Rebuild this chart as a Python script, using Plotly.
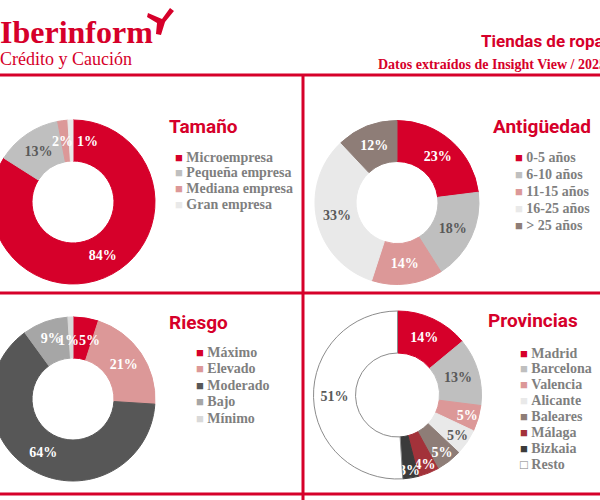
import plotly.graph_objects as go

OX = 10                      # the reference is cropped 10px on the left: extra figure width
W, H = 600 + OX, 500
RED = "#D6002A"
TXT_GRAY = "#7F7F7F"
DARK_TXT = "#595959"

# ---------------- data ----------------
tam_labels = ["Microempresa", "Pequeña empresa", "Mediana empresa", "Gran empresa"]
tam_values = [84, 13, 2, 1]
tam_colors = [RED, "#BFBFBF", "#DC9898", "#E9E9E9"]
tam_text_colors = ["white", DARK_TXT, "white", "white"]

ant_labels = ["0-5 años", "6-10 años", "11-15 años", "16-25 años", "> 25 años"]
ant_values = [23, 18, 14, 33, 12]
ant_colors = [RED, "#BFBFBF", "#DC9898", "#E9E9E9", "#8E7D77"]
ant_text_colors = ["white", DARK_TXT, "white", DARK_TXT, "white"]

rie_labels = ["Máximo", "Elevado", "Moderado", "Bajo", "Mínimo"]
rie_values = [5, 21, 64, 9, 1]
rie_colors = [RED, "#DC9898", "#575757", "#A6A6A6", "#D9D9D9"]
rie_text_colors = ["white", "white", "white", "white", "white"]

pro_labels = ["Madrid", "Barcelona", "Valencia", "Alicante", "Baleares", "Málaga", "Bizkaia", "Resto"]
pro_values = [14, 13, 5, 5, 5, 4, 3, 51]
pro_colors = [RED, "#BFBFBF", "#DC9898", "#E9E9E9", "#8E7D77", "#A3323A", "#3B3B3B", "white"]
pro_text_colors = ["white", DARK_TXT, "white", DARK_TXT, "white", "white", "white", DARK_TXT]


def px(x):
    return (x + OX) / W


def py(y):
    return 1 - y / H


def domain(cx, cy, r):
    return dict(x=[px(cx - r), px(cx + r)], y=[py(cy + r), py(cy - r)])


fig = go.Figure()

panels = [
    # labels, values, colors, text colors, center, radius, title, title pos, legend x, legend y0, step, moved labels
    (tam_labels, tam_values, tam_colors, tam_text_colors, (73, 202), 82, "Tamaño", (167, 126), 173, 157, 15.7,
     {2: (62, 141), 3: (87, 141)}),
    (ant_labels, ant_values, ant_colors, ant_text_colors, (397, 202.5), 82, "Antigüedad", (491, 126), 513, 157, 17.2,
     {}),
    (rie_labels, rie_values, rie_colors, rie_text_colors, (73, 399), 82, "Riesgo", (167, 322), 194, 352, 16.5,
     {0: (89, 340), 4: (68.5, 340)}),
    (pro_labels, pro_values, pro_colors, pro_text_colors, (397.5, 395), 84, "Provincias", (486, 320), 518, 353, 15.9,
     {}),
]

annotations = []
for labels, values, colors, tcolors, (cx, cy), r, title, (tx, ty), lx, ly0, step, moved in panels:
    line_colors = [("#8C8C8C" if c == "white" else c) for c in colors]
    templates = [("" if i in moved else "<b>%{value}%</b>") for i in range(len(values))]
    fig.add_trace(go.Pie(
        labels=labels, values=values, sort=False, direction="clockwise", rotation=0,
        hole=0.5, domain=domain(cx, cy, r),
        marker=dict(colors=colors, line=dict(color=line_colors, width=1)),
        texttemplate=templates, textposition="inside", insidetextorientation="horizontal",
        textfont=dict(family="Liberation Serif", size=14, color=tcolors),
        hoverinfo="label+value", showlegend=False,
    ))
    for i, (mx, my) in moved.items():
        annotations.append(dict(
            x=px(mx), y=py(my), xref="paper", yref="paper", xanchor="center", yanchor="middle",
            text="<b>%d%%</b>" % values[i], showarrow=False,
            font=dict(family="Liberation Serif", size=14, color=tcolors[i])))
    annotations.append(dict(
        x=px(tx), y=py(ty), xref="paper", yref="paper", xanchor="left", yanchor="middle",
        text="<b>" + title + "</b>", showarrow=False,
        font=dict(family="Roboto", size=19, color=RED)))
    for i, (lab, col) in enumerate(zip(labels, colors)):
        if col == "white":
            sq = '<span style="color:#7F7F7F;font-size:13px">□</span>'
        else:
            sq = '<span style="color:%s;font-size:13px">■</span>' % col
        annotations.append(dict(
            x=px(lx), y=py(ly0 + i * step), xref="paper", yref="paper",
            xanchor="left", yanchor="middle", showarrow=False,
            text=sq + " <b>" + lab + "</b>",
            font=dict(family="Liberation Serif", size=14, color=TXT_GRAY)))

# header texts
annotations += [
    dict(x=px(155), y=py(32), xref="paper", yref="paper", xanchor="right", yanchor="middle",
         text="<b>Iberinform</b>", showarrow=False,
         font=dict(family="Liberation Serif", size=32, color=RED)),
    dict(x=px(-2), y=py(59), xref="paper", yref="paper", xanchor="left", yanchor="middle",
         text="Crédito y Caución", showarrow=False,
         font=dict(family="Liberation Serif", size=18, color=RED)),
    dict(x=px(479), y=py(41), xref="paper", yref="paper", xanchor="left", yanchor="middle",
         text="<b>Tiendas de ropa</b>", showarrow=False,
         font=dict(family="Roboto", size=17, color=RED)),
    dict(x=px(376), y=py(64), xref="paper", yref="paper", xanchor="left", yanchor="middle",
         text="<b>Datos extraídos de Insight View / 2025</b>", showarrow=False,
         font=dict(family="Liberation Serif", size=14, color=RED)),
]


# frame lines and logo mark
def seg(x0, y0, x1, y1):
    return dict(type="line", xref="paper", yref="paper", x0=px(x0), y0=py(y0), x1=px(x1), y1=py(y1),
                line=dict(color=RED, width=3))


bird = [(148, 13), (162, 19), (170, 8), (174, 11), (165, 22), (161, 35), (156, 34), (157, 23), (147, 17)]
path = "M " + " L ".join("%.4f,%.4f" % (px(x), py(y)) for x, y in bird) + " Z"

shapes = [
    seg(-OX, 75, 600, 75),
    seg(-OX, 293, 600, 293),
    seg(-OX, 494, 600, 494),
    seg(303, 75, 303, 500),
    dict(type="path", xref="paper", yref="paper", path=path, fillcolor=RED, line=dict(width=0)),
]

fig.update_layout(
    width=W, height=H, margin=dict(l=0, r=0, t=0, b=0),
    paper_bgcolor="white", plot_bgcolor="white",
    showlegend=False,
    uniformtext=dict(minsize=14, mode="show"),
    annotations=annotations, shapes=shapes,
)

# remove the default page margin and show the figure as the cropped reference does
post = ("document.documentElement.style.overflow='hidden';"
        "document.body.style.margin='0';document.body.style.overflow='hidden';"
        "var gd=document.getElementById('{plot_id}');gd.style.marginLeft='-%dpx';" % OX)

fig.write_html("out.html", post_script=post, config={"displayModeBar": False})
